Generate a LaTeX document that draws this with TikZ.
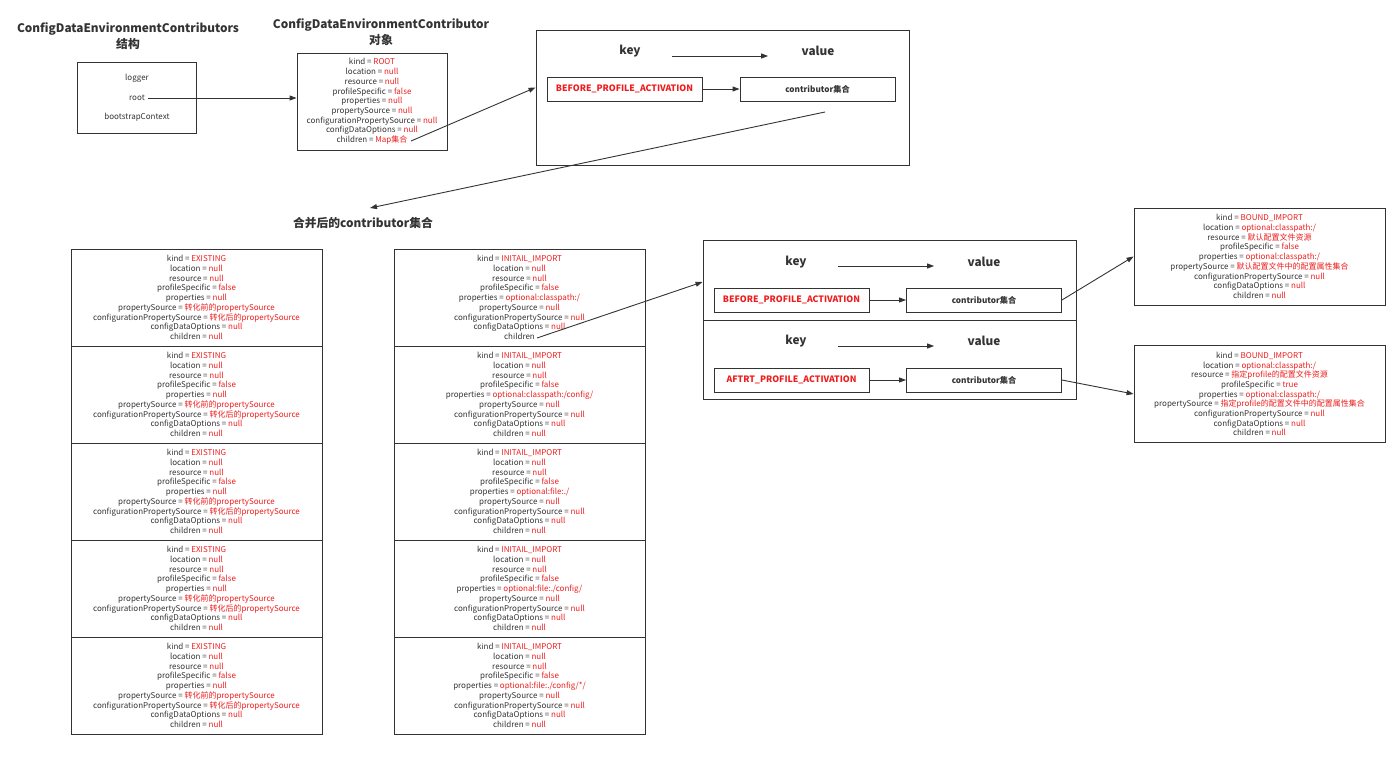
\documentclass[tikz,border=0pt]{standalone}
\usepackage{fontspec}
\setmainfont{Noto Sans CJK SC}
\usetikzlibrary{arrows.meta,positioning}
\definecolor{ink}{HTML}{333333}
\definecolor{hot}{HTML}{EE1C1C}
\newcommand{\hv}[1]{\textcolor{hot}{#1}}
\newcommand{\initlines}[2]{kind = \hv{INITAIL\_IMPORT}\\location = \hv{null}\\resource = \hv{null}\\profileSpecific = \hv{false}\\properties = \hv{#1}\\propertySource = \hv{null}\\configurationPropertySource = \hv{null}\\configDataOptions = \hv{null}\\children#2}
\tikzset{
	objbox/.style={draw=ink,line width=0.9pt,minimum width=251pt,minimum height=97pt,inner sep=0pt,
		font=\fontsize{8}{9.7}\selectfont,align=center,text=ink},
	keybox/.style={draw=ink,line width=0.9pt,minimum width=155pt,minimum height=24pt,inner sep=0pt,
		font=\fontsize{8.8}{10}\selectfont\bfseries,text=hot},
	valbox/.style={keybox,font=\fontsize{8.2}{10}\selectfont\bfseries,text=ink},
	mapbox/.style={draw=ink,line width=0.9pt,minimum width=373pt,inner sep=0pt},
	head/.style={font=\fontsize{11.8}{16}\selectfont\bfseries,text=ink,align=center},
	small/.style={font=\fontsize{8}{9.7}\selectfont,text=ink},
	arr/.style={-{Triangle[length=7pt,width=5pt]},line width=0.9pt,draw=ink}
}
\begin{document}
\begin{tikzpicture}[x=1pt,y=-1pt]
	\useasboundingbox (0,0) rectangle (1400,760);
	% top row
	\node[head] (t1) at (128,36) {ConfigDataEnvironmentContributors\\结构};
	\node[head] (t2) at (381,32) {ConfigDataEnvironmentContributor\\对象};
	\node[draw=ink,line width=0.9pt,minimum width=119pt,minimum height=71pt] (ctx) at (136.5,97.5) {};
	\node[small] (logger) at (137,78) {logger};
	\node[small] (root) at (137,98) {root};
	\node[small] (boot) at (137,117) {bootstrapContext};
	\node[objbox,minimum width=150pt] (rootobj) at (372,101.5) {kind = \hv{ROOT}\\location = \hv{null}\\resource = \hv{null}\\profileSpecific = \hv{false}\\properties = \hv{null}\\propertySource = \hv{null}\\configurationPropertySource = \hv{null}\\configDataOptions = \hv{null}\\children = \hv{Map集合}};
	\coordinate (mapend) at (411,141);
	\draw[arr] (root.east) -- (root.east -| rootobj.west);
	% first map
	\node[mapbox,minimum height=135pt] (map1) at (722.5,97.5) {};
	\node[head] (k1) at (630,51) {key};
	\node[head] (v1) at (818,51) {value};
	\draw[arr] ([xshift=28pt,yshift=-5pt]k1.east) -- ([xshift=-30pt,yshift=-5pt]v1.west);
	\node[keybox] (bk1) at (624.5,89) {BEFORE\_PROFILE\_ACTIVATION};
	\node[valbox] (cv1) at (817.5,89) {contributor集合};
	\draw[arr] (bk1) -- (cv1);
	\draw[arr] (mapend) -- ([yshift=10pt]map1.west);
	\coordinate (mapout) at (825,112);
	\coordinate (mergetip) at (370,208);
	\draw[arr] (mapout) -- (mergetip);
	% merged contributors
	\node[head] (t3) at (363,223) {合并后的contributor集合};
	\foreach \i in {0,...,4}{
		\node[objbox] (ex\i) at (196.5,297.5+97*\i) {kind = \hv{EXISTING}\\location = \hv{null}\\resource = \hv{null}\\profileSpecific = \hv{false}\\properties = \hv{null}\\propertySource = \hv{转化前的propertySource}\\configurationPropertySource = \hv{转化后的propertySource}\\configDataOptions = \hv{null}\\children = \hv{null}};}
	\node[objbox] (im0) at (519.5,297.5) {\initlines{optional:classpath:/}{}};
	\node[objbox] (im1) at (519.5,394.5) {\initlines{optional:classpath:/config/}{ = \hv{null}}};
	\node[objbox] (im2) at (519.5,491.5) {\initlines{optional:file:./}{ = \hv{null}}};
	\node[objbox] (im3) at (519.5,588.5) {\initlines{optional:file:./config/}{ = \hv{null}}};
	\node[objbox] (im4) at (519.5,685.5) {\initlines{optional:file:./config/*/}{ = \hv{null}}};
	\coordinate (childA) at (537,338);
	% second map
	\node[mapbox,minimum height=80pt] (mapA) at (889.5,280) {};
	\node[mapbox,minimum height=79pt] (mapB) at (889.5,359.5) {};
	\node[head] (k2) at (796,262) {key};
	\node[head] (v2) at (984,262) {value};
	\draw[arr] ([xshift=28pt,yshift=-4pt]k2.east) -- ([xshift=-30pt,yshift=-4pt]v2.west);
	\node[keybox] (bk2) at (791.5,300) {BEFORE\_PROFILE\_ACTIVATION};
	\node[valbox] (cv2) at (984,300) {contributor集合};
	\draw[arr] (bk2) -- (cv2);
	\node[head] (k3) at (796,341) {key};
	\node[head] (v3) at (984,341) {value};
	\draw[arr] ([xshift=28pt,yshift=-5pt]k3.east) -- ([xshift=-30pt,yshift=-5pt]v3.west);
	\node[keybox] (ak3) at (791.5,380) {AFTRT\_PROFILE\_ACTIVATION};
	\node[valbox] (cv3) at (984,380) {contributor集合};
	\draw[arr] (ak3) -- (cv3);
	\draw[arr] (childA) -- ([yshift=-2pt]mapA.west);
	% bound imports
	\node[objbox] (bd1) at (1259.5,256.5) {kind = \hv{BOUND\_IMPORT}\\location = \hv{optional:classpath:/}\\resource = \hv{默认配置文件资源}\\profileSpecific = \hv{false}\\properties = \hv{optional:classpath:/}\\propertySource = \hv{默认配置文件中的配置属性集合}\\configurationPropertySource = \hv{null}\\configDataOptions = \hv{null}\\children = \hv{null}};
	\node[objbox] (bd2) at (1259.5,394) {kind = \hv{BOUND\_IMPORT}\\location = \hv{optional:classpath:/}\\resource = \hv{指定profile的配置文件资源}\\profileSpecific = \hv{true}\\properties = \hv{optional:classpath:/}\\propertySource = \hv{指定profile的配置文件中的配置属性集合}\\configurationPropertySource = \hv{null}\\configDataOptions = \hv{null}\\children = \hv{null}};
	\draw[arr] (cv2.east) -- (bd1.west);
	\draw[arr] (cv3.east) -- (bd2.west);
\end{tikzpicture}
\end{document}
